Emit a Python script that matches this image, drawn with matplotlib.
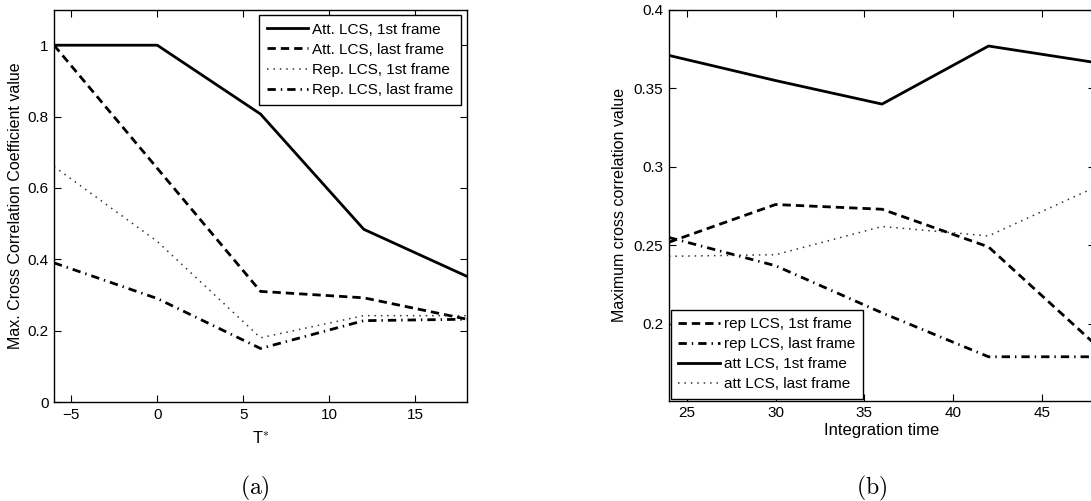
import matplotlib
matplotlib.use("Agg")
from matplotlib import pyplot as plt

plt.rcParams['font.family'] = ['Liberation Sans', 'DejaVu Sans']
plt.rcParams['mathtext.fontset'] = 'cm'

# panel (a): max cross correlation coefficient vs T*
tStar = [-6, 0, 6, 12, 18]
att1st = [1.0, 1.0, 0.807, 0.484, 0.352]
attLast = [1.0, 0.655, 0.31, 0.292, 0.232]
rep1st = [0.66, 0.45, 0.18, 0.242, 0.242]
repLast = [0.39, 0.29, 0.15, 0.228, 0.232]
labelsA = ["Att. LCS, 1st frame", "Att. LCS, last frame",
           "Rep. LCS, 1st frame", "Rep. LCS, last frame"]

# panel (b): max cross correlation vs integration time
intTime = [24, 30, 36, 42, 48]
bRep1st = [0.252, 0.276, 0.273, 0.249, 0.187]
bRepLast = [0.255, 0.237, 0.207, 0.179, 0.179]
bAtt1st = [0.371, 0.355, 0.340, 0.377, 0.3665]
bAttLast = [0.243, 0.244, 0.262, 0.256, 0.287]
labelsB = ["rep LCS, 1st frame", "rep LCS, last frame",
           "att LCS, 1st frame", "att LCS, last frame"]

solid = dict(color='black', lw=2, linestyle='-')
dashed = dict(color='black', lw=2, dashes=(3, 1.8))
dashdot = dict(color='black', lw=2, dashes=(3, 1.8, 0.5, 1.8))
dotted = dict(color='0.2', lw=1.1, dashes=(1, 3.2))

fig = plt.figure(figsize=(10.91, 5.01), dpi=100)

def style(ax):
    ax.tick_params(direction='in', top=True, right=True, labelsize=11,
                   length=5, width=0.8, pad=4)
    for s in ax.spines.values():
        s.set_linewidth(1.0)

def legend(ax, loc, anchor):
    leg = ax.legend(loc=loc, bbox_to_anchor=anchor, fontsize=11,
                    fancybox=False, framealpha=1, edgecolor='black',
                    handlelength=2.7, handletextpad=0.3, labelspacing=0.4,
                    borderpad=0.5, borderaxespad=0)
    leg.get_frame().set_linewidth(1.0)
    return leg

axA = fig.add_axes([0.0495, 0.1976, 0.3786, 0.7834])
axA.plot(tStar, att1st, label=labelsA[0], **solid)
axA.plot(tStar, attLast, label=labelsA[1], **dashed)
axA.plot(tStar, rep1st, label=labelsA[2], **dotted)
axA.plot(tStar, repLast, label=labelsA[3], **dashdot)
axA.set_xlim(-6, 18)
axA.set_ylim(0, 1.1)
axA.set_xticks([-5, 0, 5, 10, 15])
axA.set_xticklabels(['\u22125', '0', '5', '10', '15'])
axA.set_yticks([0, 0.2, 0.4, 0.6, 0.8, 1])
axA.set_yticklabels(['0', '0.2', '0.4', '0.6', '0.8', '1'])
style(axA)
axA.set_ylabel("Max. Cross Correlation Coefficient value", fontsize=11.5, labelpad=3)
axA.set_xlabel("T$^{*}$", fontsize=12, labelpad=6)
legend(axA, 'upper right', (0.986, 0.986))

axB = fig.add_axes([0.6132, 0.2002, 0.3905, 0.780])
axB.plot(intTime, bRep1st, label=labelsB[0], **dashed)
axB.plot(intTime, bRepLast, label=labelsB[1], **dashdot)
axB.plot(intTime, bAtt1st, label=labelsB[2], **solid)
axB.plot(intTime, bAttLast, label=labelsB[3], **dotted)
axB.set_xlim(24, 48)
axB.set_ylim(0.151, 0.4)
axB.set_xticks([25, 30, 35, 40, 45])
axB.set_yticks([0.2, 0.25, 0.3, 0.35, 0.4])
axB.set_yticklabels(['0.2', '0.25', '0.3', '0.35', '0.4'])
style(axB)
axB.set_ylabel("Maximum cross correlation value", fontsize=11.5, labelpad=5)
axB.set_xlabel("Integration time", fontsize=12, labelpad=2)
legend(axB, 'lower left', (0.004, 0.004))

fig.text(255 / 1091, 1 - 488 / 501, r"$\mathrm{(a)}$", ha='center', va='center', fontsize=17)
fig.text(872 / 1091, 1 - 488 / 501, r"$\mathrm{(b)}$", ha='center', va='center', fontsize=17)

fig.savefig("out.png", dpi=100)
